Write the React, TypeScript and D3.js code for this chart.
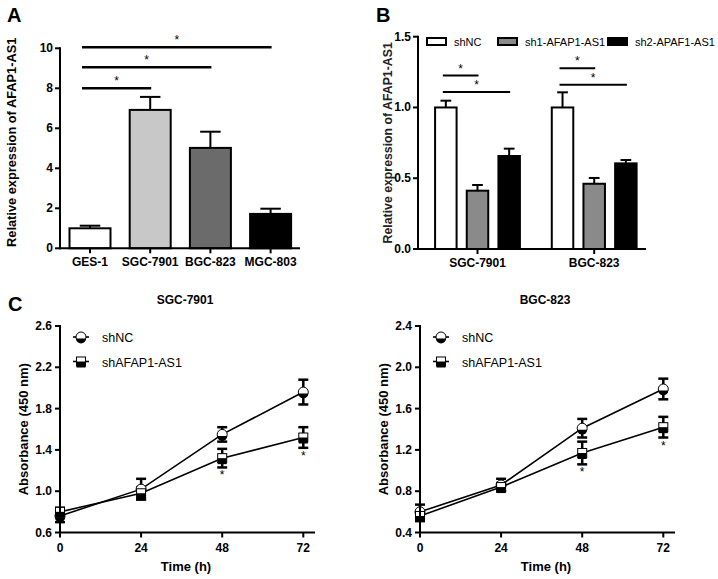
import React from "react";
import * as d3 from "d3";

// ---------- Panel A data ----------
const catsA = ["GES-1", "SGC-7901", "BGC-823", "MGC-803"];
const meansA = [1.0, 6.92, 5.02, 1.72];
const errA = [0.13, 0.65, 0.81, 0.26];
const colorsA = ["#ffffff", "#c8c8c8", "#6b6b6b", "#000000"];
const ticksA = [0, 2, 4, 6, 8, 10];
const sigA: [string, string, number][] = [
  ["GES-1", "SGC-7901", 8.0],
  ["GES-1", "BGC-823", 9.05],
  ["GES-1", "MGC-803", 10.05],
];

// ---------- Panel B data ----------
const groupsB = ["SGC-7901", "BGC-823"];
const seriesB = ["shNC", "sh1-AFAP1-AS1", "sh2-APAF1-AS1"];
const colorsB = ["#ffffff", "#8a8a8a", "#000000"];
const shNCB = [1.0, 1.0];
const shNCBErr = [0.048, 0.107];
const sh1B = [0.412, 0.461];
const sh1BErr = [0.04, 0.041];
const sh2B = [0.657, 0.605];
const sh2BErr = [0.052, 0.024];
const ticksB = [0, 0.5, 1.0, 1.5];
const sigB: [string, string, string, number][] = [
  ["SGC-7901", "shNC", "sh1-AFAP1-AS1", 1.225],
  ["SGC-7901", "shNC", "sh2-APAF1-AS1", 1.11],
  ["BGC-823", "shNC", "sh1-AFAP1-AS1", 1.277],
  ["BGC-823", "shNC", "sh2-APAF1-AS1", 1.16],
];

// ---------- Panel C data ----------
const timesC = [0, 24, 48, 72];
const sgcShNC = [0.76, 1.02, 1.55, 1.96];
const sgcShNCErr = [0.06, 0.1, 0.07, 0.12];
const sgcShA = [0.8, 0.98, 1.32, 1.52];
const sgcShAErr = [0.04, 0.06, 0.09, 0.1];
const bgcShNC = [0.6, 0.86, 1.41, 1.79];
const bgcShNCErr = [0.07, 0.06, 0.09, 0.1];
const bgcShA = [0.56, 0.84, 1.17, 1.42];
const bgcShAErr = [0.05, 0.04, 0.11, 0.1];
const ticksSGC = [0.6, 1.0, 1.4, 1.8, 2.2, 2.6];
const ticksBGC = [0.4, 0.8, 1.2, 1.6, 2.0, 2.4];
const sigTimes = [48, 72];
const legendC = ["shNC", "shAFAP1-AS1"];

const FONT = "'Liberation Sans', Arial, Helvetica, sans-serif";

function PanelA() {
  const x = d3.scalePoint<string>().domain(catsA).range([90, 270.6]);
  const y = d3.scaleLinear().domain([0, 10]).range([248.3, 48.3]);
  const bw = 41;
  const axisX = 60;
  return (
    <g>
      <text x={7} y={22} fontSize={20} fontWeight="bold" fontFamily={FONT}>A</text>
      {catsA.map((c, i) => {
        const cx = x(c)!;
        return (
          <g key={c}>
            <line x1={cx} x2={cx} y1={y(meansA[i])} y2={y(meansA[i] + errA[i])} stroke="#000" strokeWidth={2} />
            <line x1={cx - bw / 4} x2={cx + bw / 4} y1={y(meansA[i] + errA[i])} y2={y(meansA[i] + errA[i])} stroke="#000" strokeWidth={2} />
            <rect x={cx - bw / 2} y={y(meansA[i])} width={bw} height={y(0) - y(meansA[i])} fill={colorsA[i]} stroke="#000" strokeWidth={2} />
          </g>
        );
      })}
      <line x1={axisX} x2={axisX} y1={y(10) - 1} y2={y(0) + 1} stroke="#000" strokeWidth={2} />
      <line x1={axisX - 1} x2={300} y1={y(0)} y2={y(0)} stroke="#000" strokeWidth={2} />
      {ticksA.map((t) => (
        <g key={t}>
          <line x1={axisX - 5} x2={axisX} y1={y(t)} y2={y(t)} stroke="#000" strokeWidth={2} />
          <text x={axisX - 7} y={y(t) + 4} textAnchor="end" fontSize={12} fontWeight="bold" fontFamily={FONT}>{t}</text>
        </g>
      ))}
      {catsA.map((c) => (
        <g key={c}>
          <line x1={x(c)} x2={x(c)} y1={y(0)} y2={y(0) + 5} stroke="#000" strokeWidth={2} />
          <text x={x(c)} y={y(0) + 18} textAnchor="middle" fontSize={12} fontWeight="bold" fontFamily={FONT}>{c}</text>
        </g>
      ))}
      {sigA.map(([a, b, v], i) => {
        const x1 = x(a)! - 8;
        const x2 = x(b)! + 1;
        return (
          <g key={i}>
            <line x1={x1} x2={x2} y1={y(v)} y2={y(v)} stroke="#000" strokeWidth={2.5} />
            <text x={(x1 + x2) / 2} y={y(v) - 3} textAnchor="middle" fontSize={12} fontFamily={FONT}>*</text>
          </g>
        );
      })}
      <text transform={`translate(16,${(y(0) + y(10)) / 2 - 6}) rotate(-90)`} textAnchor="middle" fontSize={12.8} fontWeight="bold" fontFamily={FONT}>
        Relative expression of AFAP1-AS1
      </text>
    </g>
  );
}

function PanelB() {
  const gx = d3.scalePoint<string>().domain(groupsB).range([477.5, 594.2]);
  const sx = d3.scaleBand<string>().domain(seriesB).range([-47.5, 47.5]).paddingInner(0.32).paddingOuter(0.16);
  const y = d3.scaleLinear().domain([0, 1.5]).range([249, 36.7]);
  const axisX = 418;
  const vals = [shNCB, sh1B, sh2B];
  const errs = [shNCBErr, sh1BErr, sh2BErr];
  const bw = 21.5;
  const center = (g: string, s: string) => gx(g)! + sx(s)! + sx.bandwidth() / 2;
  const legendX = [427, 498, 608];
  return (
    <g>
      <text x={376} y={22} fontSize={20} fontWeight="bold" fontFamily={FONT}>B</text>
      {groupsB.map((g, gi) =>
        seriesB.map((s, si) => {
          const cx = center(g, s);
          const v = vals[si][gi];
          const e = errs[si][gi];
          return (
            <g key={g + s}>
              <line x1={cx} x2={cx} y1={y(v)} y2={y(v + e)} stroke="#000" strokeWidth={2} />
              <line x1={cx - bw / 4} x2={cx + bw / 4} y1={y(v + e)} y2={y(v + e)} stroke="#000" strokeWidth={2} />
              <rect x={cx - bw / 2} y={y(v)} width={bw} height={y(0) - y(v)} fill={colorsB[si]} stroke="#000" strokeWidth={2} />
            </g>
          );
        })
      )}
      <line x1={axisX} x2={axisX} y1={y(1.5) - 1} y2={y(0) + 1} stroke="#000" strokeWidth={2} />
      <line x1={axisX - 1} x2={646} y1={y(0)} y2={y(0)} stroke="#000" strokeWidth={2} />
      {ticksB.map((t) => (
        <g key={t}>
          <line x1={axisX - 5} x2={axisX} y1={y(t)} y2={y(t)} stroke="#000" strokeWidth={2} />
          <text x={axisX - 7} y={y(t) + 4} textAnchor="end" fontSize={12} fontWeight="bold" fontFamily={FONT}>{t.toFixed(1)}</text>
        </g>
      ))}
      {groupsB.map((g) => (
        <g key={g}>
          <line x1={gx(g)} x2={gx(g)} y1={y(0)} y2={y(0) + 5} stroke="#000" strokeWidth={2} />
          <text x={gx(g)} y={y(0) + 18} textAnchor="middle" fontSize={12} fontWeight="bold" fontFamily={FONT}>{g}</text>
        </g>
      ))}
      {sigB.map(([g, a, b, v], i) => {
        const x1 = center(g, a) - 3;
        const x2 = center(g, b) + 1;
        return (
          <g key={i}>
            <line x1={x1} x2={x2} y1={y(v)} y2={y(v)} stroke="#000" strokeWidth={2} />
            <text x={(x1 + x2) / 2} y={y(v) - 3} textAnchor="middle" fontSize={12} fontFamily={FONT}>*</text>
          </g>
        );
      })}
      {seriesB.map((s, i) => (
        <g key={s}>
          <rect x={legendX[i]} y={38} width={19} height={7} fill={colorsB[i]} stroke="#000" strokeWidth={2} />
          <text x={legendX[i] + 27} y={45.5} fontSize={11} fontFamily={FONT}>{s}</text>
        </g>
      ))}
      <text transform={`translate(392,${(y(0) + y(1.5)) / 2}) rotate(-90)`} textAnchor="middle" fontSize={12.3} fontWeight="bold" fill="#222" fontFamily={FONT}>
        Relative expression of AFAP1-AS1
      </text>
    </g>
  );
}

function CircleMarker({ cx, cy }: { cx: number; cy: number }) {
  const r = 5;
  return (
    <g>
      <circle cx={cx} cy={cy} r={r} fill="#fff" stroke="#000" strokeWidth={1} />
      <path d={`M${cx - r},${cy} A${r},${r} 0 0 0 ${cx + r},${cy} Z`} fill="#000" transform="translate(0,1.5)" />
    </g>
  );
}

function SquareMarker({ cx, cy }: { cx: number; cy: number }) {
  const s = 9;
  return (
    <g>
      <rect x={cx - s / 2} y={cy - s / 2} width={s} height={s} fill="#fff" stroke="#000" strokeWidth={1} />
      <rect x={cx - s / 2} y={cy} width={s} height={s / 2 + 1.5} fill="#000" />
    </g>
  );
}

function LinePanel(props: {
  ox: number;
  title: string;
  ticks: number[];
  nc: number[];
  ncErr: number[];
  sh: number[];
  shErr: number[];
  starOffset: number[];
  label?: string;
}) {
  const { ox, title, ticks, nc, ncErr, sh, shErr, starOffset, label } = props;
  const x = d3.scaleLinear().domain([0, 72]).range([ox + 60, ox + 303.3]);
  const y = d3.scaleLinear().domain([ticks[0], ticks[ticks.length - 1]]).range([532.5, 326]);
  const line = d3.line<number>().x((_, i) => x(timesC[i])).y((d) => y(d));
  const errBar = (vals: number[], errs: number[], key: string) =>
    vals.map((v, i) => {
      const cx = x(timesC[i]);
      return (
        <g key={key + i}>
          <line x1={cx} x2={cx} y1={y(v - errs[i])} y2={y(v + errs[i])} stroke="#000" strokeWidth={2.5} />
          <line x1={cx - 5} x2={cx + 5} y1={y(v - errs[i])} y2={y(v - errs[i])} stroke="#000" strokeWidth={2.5} />
          <line x1={cx - 5} x2={cx + 5} y1={y(v + errs[i])} y2={y(v + errs[i])} stroke="#000" strokeWidth={2.5} />
        </g>
      );
    });
  return (
    <g>
      {label && <text x={8} y={311} fontSize={20} fontWeight="bold" fontFamily={FONT}>{label}</text>}
      <text x={ox + 185} y={304} textAnchor="middle" fontSize={12} fontWeight="bold" fontFamily={FONT}>{title}</text>
      <path d={line(nc) || ""} fill="none" stroke="#000" strokeWidth={1.6} />
      <path d={line(sh) || ""} fill="none" stroke="#000" strokeWidth={1.6} />
      {errBar(nc, ncErr, "nc")}
      {errBar(sh, shErr, "sh")}
      {nc.map((v, i) => <CircleMarker key={"c" + i} cx={x(timesC[i])} cy={y(v)} />)}
      {sh.map((v, i) => <SquareMarker key={"s" + i} cx={x(timesC[i])} cy={y(v)} />)}
      {sigTimes.map((t, i) => {
        const idx = timesC.indexOf(t);
        return (
          <text key={t} x={x(t)} y={y(sh[idx] - shErr[idx]) + starOffset[i]} textAnchor="middle" fontSize={12} fontFamily={FONT}>*</text>
        );
      })}
      <line x1={ox + 60} x2={ox + 60} y1={326 - 1} y2={533.5} stroke="#000" strokeWidth={2} />
      <line x1={ox + 59} x2={ox + 315} y1={532.5} y2={532.5} stroke="#000" strokeWidth={2} />
      {ticks.map((t) => (
        <g key={t}>
          <line x1={ox + 55} x2={ox + 60} y1={y(t)} y2={y(t)} stroke="#000" strokeWidth={2} />
          <text x={ox + 52} y={y(t) + 4} textAnchor="end" fontSize={12} fontWeight="bold" fontFamily={FONT}>{t.toFixed(1)}</text>
        </g>
      ))}
      {timesC.map((t) => (
        <g key={t}>
          <line x1={x(t)} x2={x(t)} y1={532.5} y2={537.5} stroke="#000" strokeWidth={2} />
          <text x={x(t)} y={552} textAnchor="middle" fontSize={12} fontWeight="bold" fontFamily={FONT}>{t}</text>
        </g>
      ))}
      <text x={ox + 186} y={571} textAnchor="middle" fontSize={13} fontWeight="bold" fontFamily={FONT}>Time (h)</text>
      <text transform={`translate(${ox + 28},${(532.5 + 326) / 2}) rotate(-90)`} textAnchor="middle" fontSize={13} fontWeight="bold" fontFamily={FONT}>
        Absorbance (450 nm)
      </text>
      {legendC.map((s, i) => (
        <g key={s}>
          <line x1={ox + 73} x2={ox + 89} y1={337 + i * 24.5} y2={337 + i * 24.5} stroke="#000" strokeWidth={1.6} />
          {i === 0 ? <CircleMarker cx={ox + 81} cy={337} /> : <SquareMarker cx={ox + 81} cy={361.5} />}
          <text x={ox + 102} y={342 + i * 24.5} fontSize={12.5} fontFamily={FONT}>{s}</text>
        </g>
      ))}
    </g>
  );
}

export default function App() {
  return (
    <svg width={718} height={579} style={{ position: "absolute", left: 0, top: 0, background: "#fff" }}>
      <rect width={718} height={579} fill="#fff" />
      <PanelA />
      <PanelB />
      <LinePanel ox={0} title="SGC-7901" ticks={ticksSGC} nc={sgcShNC} ncErr={sgcShNCErr} sh={sgcShA} shErr={sgcShAErr} starOffset={[12, 12]} label="C" />
      <LinePanel ox={360} title="BGC-823" ticks={ticksBGC} nc={bgcShNC} ncErr={bgcShNCErr} sh={bgcShA} shErr={bgcShAErr} starOffset={[12, 12]} />
    </svg>
  );
}
